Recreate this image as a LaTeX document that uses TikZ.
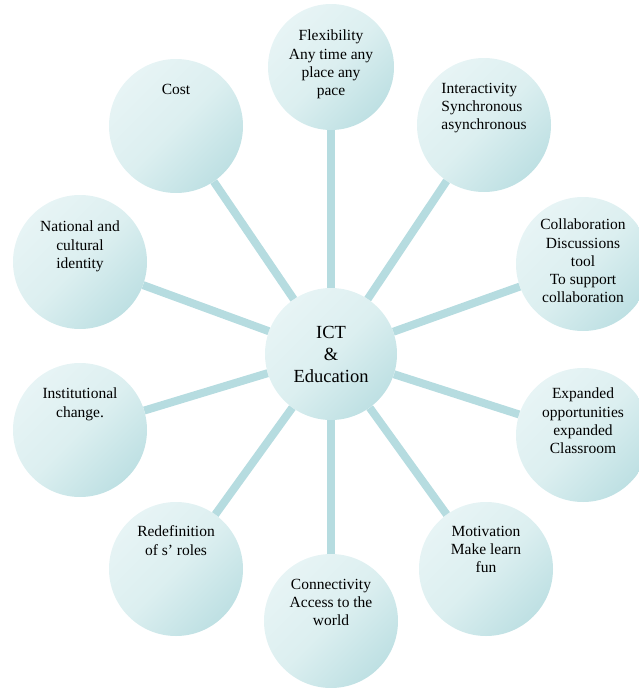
\documentclass[tikz,border=0pt]{standalone}
\usepackage{fontspec}
\setmainfont{Liberation Serif}

\definecolor{bubblelight}{HTML}{E7F4F5}
\definecolor{bubblemid}{HTML}{DCEFF0}
\definecolor{bubbledark}{HTML}{BEE0E3}
\definecolor{spokeblue}{HTML}{B6DCE0}

\begin{document}
\begin{tikzpicture}[x=1pt, y=-1pt,
		bubble/.style={circle, minimum size=134pt, inner sep=0pt,
			top color=bubblelight, bottom color=bubbledark, middle color=bubblemid, shading angle=45},
		hub/.style={bubble, minimum size=132pt, align=center, font=\fontsize{18.5}{22}\selectfont},
		caption/.style={anchor=north, inner sep=0pt, align=center, font=\fontsize{15.5}{18.3}\selectfont},
		spoke/.style={draw=spokeblue, line width=8pt}]
	\useasboundingbox (0,0) rectangle (638,688);

	\node[hub]    (ict)     at (331, 354) {ICT\\\&\\Education};
	\node[bubble, minimum size=126pt] (flex) at (331, 67) {};
	\node[bubble] (inter)   at (484, 125) {};
	\node[bubble] (collab)  at (583, 264) {};
	\node[bubble] (expand)  at (583, 435) {};
	\node[bubble] (motiv)   at (486, 569) {};
	\node[bubble] (connect) at (331, 621) {};
	\node[bubble] (redef)   at (176, 569) {};
	\node[bubble] (instit)  at ( 80, 430) {};
	\node[bubble] (nation)  at ( 80, 262) {};
	\node[bubble] (cost)    at (176, 126) {};

	% texts sit in the upper part of each bubble
	\node[caption] (flextext)    at ([yshift=-26pt]flex.north)    {Flexibility\\Any time any\\place any\\pace};
	\node[caption, align=left] (intertext) at ([yshift=-25pt]inter.north) {Interactivity\\Synchronous\\asynchronous};
	\node[caption] (collabtext)  at ([yshift=-22pt]collab.north)  {Collaboration\\Discussions\\tool\\To support\\collaboration};
	\node[caption] (expandtext)  at ([yshift=-20pt]expand.north)  {Expanded\\opportunities\\expanded\\Classroom};
	\node[caption] (motivtext)   at ([yshift=-24pt]motiv.north)   {Motivation\\Make learn\\fun};
	\node[caption] (connecttext) at ([yshift=-25pt]connect.north) {Connectivity\\Access to the\\world};
	\node[caption] (redeftext)   at ([yshift=-24pt]redef.north)   {Redefinition\\of s’ roles};
	\node[caption] (instittext)  at ([yshift=-25pt]instit.north)  {Institutional\\change.};
	\node[caption] (nationtext)  at ([yshift=-26pt]nation.north)  {National and\\cultural\\identity};
	\node[caption] (costtext)    at ([yshift=-25pt]cost.north)    {Cost};

	\foreach \n in {flex, inter, collab, expand, motiv, connect, redef, instit, nation, cost}
		\draw[spoke] (ict) -- (\n);
\end{tikzpicture}
\end{document}
